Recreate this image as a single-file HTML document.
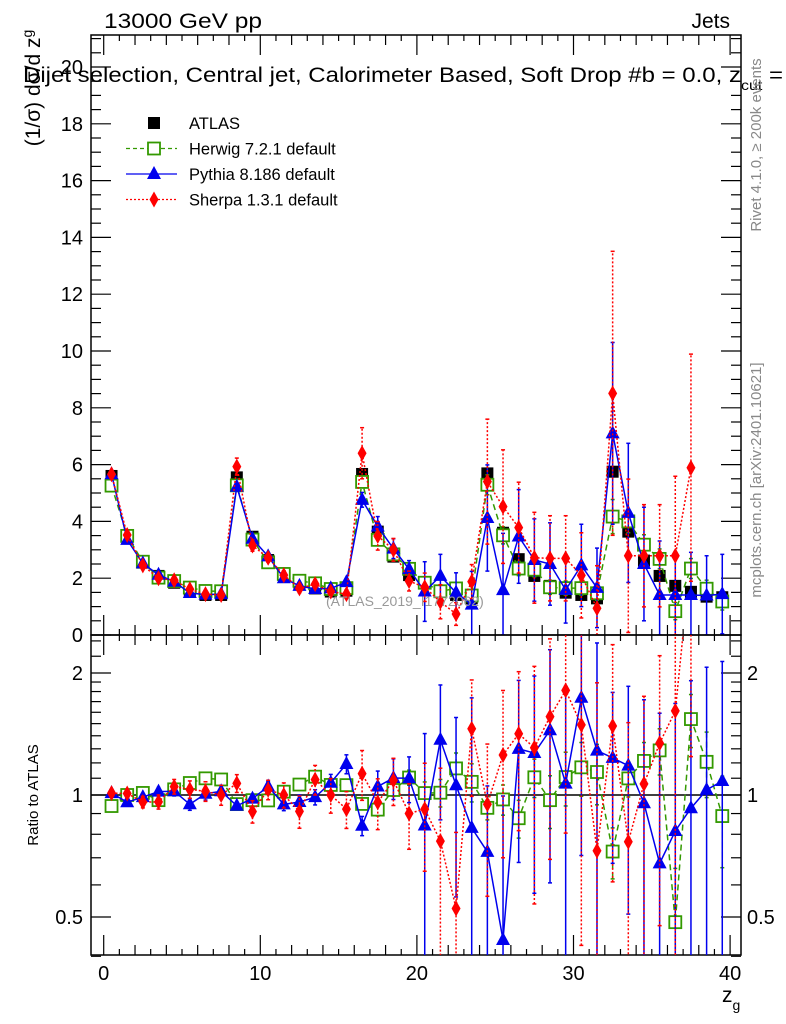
<!DOCTYPE html>
<html><head><meta charset="utf-8"><style>
html,body{margin:0;padding:0;background:#fff;width:786px;height:1024px;overflow:hidden;}
svg{display:block;font-family:"Liberation Sans",sans-serif;}
</style></head><body>
<svg id="chart" width="786" height="1024" viewBox="0 0 786 1024">
<text x="104" y="28" font-size="21" textLength="158" lengthAdjust="spacingAndGlyphs">13000 GeV pp</text>
<text x="730" y="28" font-size="21" text-anchor="end">Jets</text>
<g id="main"></g>
<g id="ratio"></g>
<text x="326" y="606" font-size="14" fill="#999">(ATLAS_2019_I1772062)</text>
<text x="23" y="82" font-size="21" textLength="760" lengthAdjust="spacingAndGlyphs">Dijet selection, Central jet, Calorimeter Based, Soft Drop #b = 0.0, z<tspan font-size="14" dy="8">cut</tspan><tspan dy="-8"> =</tspan></text>
<text transform="translate(40,88) rotate(-90)" font-size="21" text-anchor="middle">(1/σ) dσ/d z<tspan font-size="14" dy="-8">g</tspan></text>
<text transform="translate(38,795) rotate(-90)" font-size="15" text-anchor="middle">Ratio to ATLAS</text>
<text x="722" y="1002" font-size="21">z<tspan font-size="14" dy="8">g</tspan></text>
<text transform="translate(761,145) rotate(-90)" font-size="15" fill="#888" text-anchor="middle">Rivet 4.1.0, ≥ 200k events</text>
<text transform="translate(761,480) rotate(-90)" font-size="15" fill="#888" text-anchor="middle">mcplots.cern.ch [arXiv:2401.10621]</text>
<g id="legend"></g>
</svg>
<script>
const bins = [0.5,1.5,2.5,3.5,4.5,5.5,6.5,7.5,8.5,9.5,10.5,11.5,12.5,13.5,14.5,15.5,16.5,17.5,18.5,19.5,20.5,21.5,22.5,23.5,24.5,25.5,26.5,27.5,28.5,29.5,30.5,31.5,32.5,33.5,34.5,35.5,36.5,37.5,38.5,39.5];
const atlas = [5.6,3.49,2.55,2.08,1.84,1.56,1.41,1.41,5.55,3.46,2.64,2.11,1.8,1.64,1.53,1.56,5.67,3.64,2.76,2.11,1.82,1.52,1.41,1.29,5.69,3.6,2.67,2.08,1.73,1.49,1.41,1.29,5.75,3.64,2.62,2.08,1.73,1.52,1.35,1.33];
const atlasErr = [0.08,0.05,0.04,0.03,0.03,0.03,0.03,0.03,0.08,0.05,0.04,0.03,0.03,0.03,0.03,0.03,0.1,0.06,0.05,0.04,0.04,0.04,0.04,0.04,0.12,0.08,0.06,0.05,0.05,0.05,0.05,0.05,0.15,0.1,0.08,0.07,0.07,0.07,0.07,0.07];
const herwig = [5.26,3.49,2.58,2.02,1.9,1.67,1.55,1.54,5.27,3.36,2.56,2.15,1.91,1.82,1.62,1.65,5.39,3.35,2.84,2.33,1.84,1.54,1.64,1.39,5.29,3.51,2.34,2.3,1.68,1.65,1.65,1.47,4.17,4.0,3.18,2.68,0.84,2.34,1.63,1.18];
const herwigErr = [0.05,0.04,0.03,0.03,0.03,0.03,0.03,0.03,0.06,0.05,0.04,0.04,0.04,0.04,0.04,0.04,0.15,0.12,0.1,0.1,0.12,0.12,0.15,0.15,0.35,0.3,0.25,0.25,0.25,0.25,0.25,0.25,0.6,0.4,0.35,0.35,0.3,0.35,0.3,0.3];
const pythia = [5.66,3.35,2.52,2.12,1.88,1.48,1.42,1.44,5.22,3.39,2.77,2.0,1.73,1.62,1.64,1.86,4.76,3.82,3.04,2.32,1.53,2.08,1.49,1.07,4.12,1.58,3.47,2.64,2.5,1.59,2.45,1.66,7.1,4.3,2.5,1.41,1.41,1.41,1.39,1.44];
const pythiaErr = [0.08,0.06,0.05,0.05,0.05,0.05,0.05,0.05,0.1,0.08,0.08,0.07,0.07,0.07,0.08,0.1,0.26,0.35,0.35,0.3,1.05,0.76,0.7,1.17,1.87,2.0,1.65,1.45,1.45,1.17,1.45,1.4,3.2,2.45,2.0,1.9,1.5,1.5,1.4,1.4];
const sherpa = [5.66,3.52,2.45,2.0,1.93,1.61,1.44,1.41,5.93,3.15,2.72,2.11,1.64,1.79,1.53,1.44,6.4,3.49,3.0,1.9,1.68,1.17,0.74,1.88,5.4,4.52,3.78,2.72,2.7,2.7,2.1,0.94,8.51,2.79,2.79,2.79,2.79,5.89,null,null];
const sherpaErr = [0.1,0.08,0.08,0.08,0.08,0.08,0.08,0.08,0.3,0.2,0.15,0.15,0.15,0.15,0.15,0.15,0.9,0.5,0.4,0.35,0.5,0.6,0.4,0.6,2.2,2.0,1.6,1.6,1.5,1.5,1.5,1.5,5.0,2.7,1.8,1.8,2.8,4.0,0,0];
const mainTicks = [0,2,4,6,8,10,12,14,16,18,20];
const xTicks = [0,10,20,30,40];
const ratioTicks = [0.5,1,2];

const NS='http://www.w3.org/2000/svg';
const L=91,R=741,MT=35,MB=635,RB=955;
const xs=v=>103.7+15.66*v;
const ym=v=>635-28.4*v;
const yr=v=>795-122*Math.log2(v);
function mk(parent,tag,attrs){const e=document.createElementNS(NS,tag);for(const k in attrs)e.setAttribute(k,attrs[k]);parent.appendChild(e);return e;}
const main=document.getElementById('main'), ratio=document.getElementById('ratio'), legend=document.getElementById('legend');

const defs=mk(document.getElementById('chart'),'defs',{});
const c1=mk(defs,'clipPath',{id:'cm'});mk(c1,'rect',{x:L,y:MT,width:R-L,height:MB-MT});
const c2=mk(defs,'clipPath',{id:'cr'});mk(c2,'rect',{x:L,y:MB,width:R-L,height:RB-MB});

function axes(g,top,bot,isMain){
  const fr=mk(g,'rect',{x:L,y:top,width:R-L,height:bot-top,fill:'none',stroke:'#000','stroke-width':1.5});
  
  
  for(let v=0;v<=40;v++){
    const len=v%10===0?20:(v%2===0?10:6);
    mk(g,'line',{x1:xs(v),x2:xs(v),y1:bot,y2:bot-len,stroke:'#000','stroke-width':1.2});
    mk(g,'line',{x1:xs(v),x2:xs(v),y1:top,y2:top+len,stroke:'#000','stroke-width':1.2});
  }
}
axes(main,MT,MB,true);
axes(ratio,MB,RB,false);
for(let v=0;v<=21;v+=0.5){
  const len=v%2===0?20:10;
  mk(main,'line',{x1:L,x2:L+len,y1:ym(v),y2:ym(v),stroke:'#000','stroke-width':1.2});
  mk(main,'line',{x1:R,x2:R-len,y1:ym(v),y2:ym(v),stroke:'#000','stroke-width':1.2});
}
mainTicks.forEach(v=>{
  const t=mk(main,'text',{x:L-8,y:ym(v)+7,'font-size':20,'text-anchor':'end'});t.textContent=v;
  
  
});
[0.4,0.5,0.6,0.7,0.8,0.9,1,1.1,1.2,1.3,1.4,1.5,1.6,1.7,1.8,1.9,2,2.2,2.4].forEach(v=>{
  const len=ratioTicks.includes(v)?20:10;
  mk(ratio,'line',{x1:L,x2:L+len,y1:yr(v),y2:yr(v),stroke:'#000','stroke-width':1.2});
  mk(ratio,'line',{x1:R,x2:R-len,y1:yr(v),y2:yr(v),stroke:'#000','stroke-width':1.2});
});
ratioTicks.forEach(v=>{
  const t=mk(ratio,'text',{x:L-8,y:yr(v)+7,'font-size':20,'text-anchor':'end'});t.textContent=v;
  
  
  const t2=mk(ratio,'text',{x:R+6,y:yr(v)+7,'font-size':20});t2.textContent=v;
  
  
});
xTicks.forEach(v=>{
  const t=mk(ratio,'text',{x:xs(v),y:980,'font-size':20,'text-anchor':'middle'});t.textContent=v;
  
  
});
mk(ratio,'line',{x1:L,x2:R,y1:yr(1),y2:yr(1),stroke:'#000','stroke-width':1.5});

function marker(g,type,x,y,color){
  let e;
  if(type==='sq') e=mk(g,'rect',{x:x-6,y:y-6,width:12,height:12,fill:'#000'});
  else if(type==='osq') e=mk(g,'rect',{x:x-6,y:y-6,width:12,height:12,fill:'#fff',stroke:color,'stroke-width':1.8});
  else if(type==='tri') e=mk(g,'path',{d:`M${x},${y-8}L${x+7},${y+5}L${x-7},${y+5}Z`,fill:color});
  else e=mk(g,'path',{d:`M${x},${y-8}L${x+4.5},${y}L${x},${y+8}L${x-4.5},${y}Z`,fill:color});
  return e;
}
const series=[
 {name:'herwig',vals:herwig,err:herwigErr,color:'#339900',dash:'6,4',m:'osq'},
 {name:'pythia',vals:pythia,err:pythiaErr,color:'#0000ee',dash:'',m:'tri'},
 {name:'sherpa',vals:sherpa,err:sherpaErr,color:'#ff0000',dash:'2,2',m:'dia'}
];
const ga=mk(main,'g',{'clip-path':'url(#cm)'});


bins.forEach((b,i)=>{
  mk(ga,'line',{x1:xs(b),x2:xs(b),y1:ym(atlas[i]-atlasErr[i]),y2:ym(atlas[i]+atlasErr[i]),stroke:'#000','stroke-width':1.5});
  const p=marker(ga,'sq',xs(b),ym(atlas[i]));
  
  
});
function drawSeries(s,g,yf,valf,errf){
  let d='',pen=false;
  bins.forEach((b,i)=>{const v=valf(i);if(v==null){pen=false;return;}d+=(pen?'L':'M')+xs(b)+','+yf(v);pen=true;});
  const ln=mk(g,'path',{d:d,fill:'none',stroke:s.color,'stroke-width':1.5,'stroke-dasharray':s.dash});
  
  
  bins.forEach((b,i)=>{
    const v=valf(i);if(v==null)return;const e=errf(i);
    const lo=Math.max(v-e,0.001);
    mk(g,'line',{x1:xs(b),x2:xs(b),y1:yf(lo),y2:yf(v+e),stroke:s.color,'stroke-width':1.5,'stroke-dasharray':s.dash});
    mk(g,'line',{x1:xs(b)-2,x2:xs(b)+2,y1:yf(lo),y2:yf(lo),stroke:s.color,'stroke-width':1.5});
    mk(g,'line',{x1:xs(b)-2,x2:xs(b)+2,y1:yf(v+e),y2:yf(v+e),stroke:s.color,'stroke-width':1.5});
    const p=marker(g,s.m,xs(b),yf(v),s.color);
    
    
  });
}
series.forEach(s=>{
  const g=mk(main,'g',{'clip-path':'url(#cm)'});
  
  
  drawSeries(s,g,ym,i=>s.vals[i],i=>s.err[i]);
  const g2=mk(ratio,'g',{'clip-path':'url(#cr)'});
  
  
  drawSeries(s,g2,yr,i=>s.vals[i]==null?null:s.vals[i]/atlas[i],i=>s.err[i]/atlas[i]);
});
const lg=[{t:'ATLAS',m:'sq',c:'#000',dash:null},{t:'Herwig 7.2.1 default',m:'osq',c:'#339900',dash:'4,3'},{t:'Pythia 8.186 default',m:'tri',c:'#0000ee',dash:''},{t:'Sherpa 1.3.1 default',m:'dia',c:'#ff0000',dash:'2,2'}];
lg.forEach((e,i)=>{
  const y=123+25.5*i;
  const g=mk(legend,'g',{});
  
  
  if(e.dash!==null) mk(g,'line',{x1:126,x2:177,y1:y,y2:y,stroke:e.c,'stroke-width':1.3,'stroke-dasharray':e.dash});
  marker(g,e.m,154,y,e.c);
  const t=mk(g,'text',{x:189,y:y+6,'font-size':16.5});t.textContent=e.t;
});
</script>
</body></html>
